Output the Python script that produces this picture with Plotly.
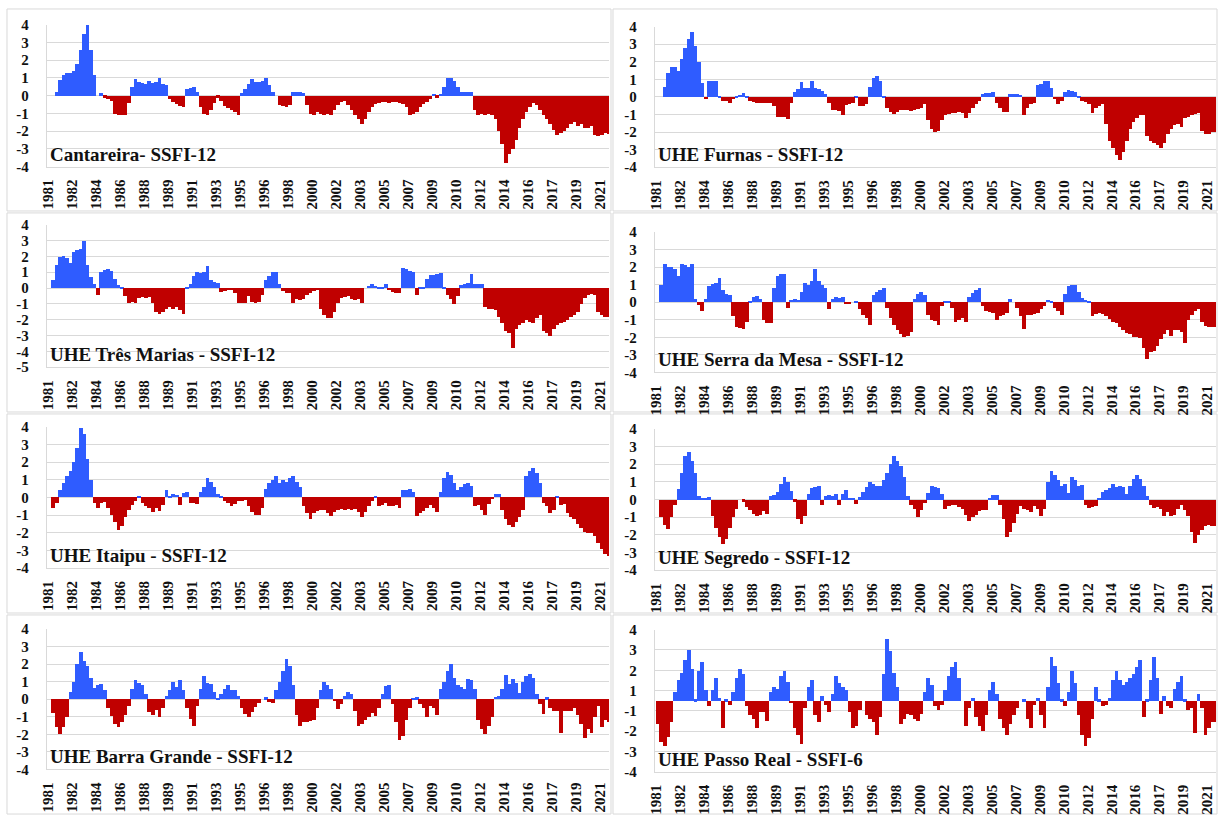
import plotly.graph_objects as go

# ---------------- data (quarterly SSFI values, Jan 1981 .. Dec 2021 edge) ----------------
label_years = ["1981", "1982", "1984", "1986", "1988", "1989", "1991", "1993", "1995", "1996",
               "1998", "2000", "2002", "2003", "2005", "2007", "2009", "2010", "2012", "2014",
               "2016", "2017", "2019", "2021"]

cantareira = [
    0, 0, 0.2, 0.9, 1.2, 1.3, 1.3,
    1.4, 1.8, 2.6, 3.5, 4.0, 2.6, 1.2,
    0, 0.15, -0.1, -0.2, -0.3, -1.0, -1.1,
    -1.1, -1.1, -0.4, 0.5, 0.95, 0.8, 0.75,
    0.7, 0.85, 0.75, 0.8, 1.0, 0.7, 0.6,
    -0.2, -0.35, -0.45, -0.55, -0.6, 0.4, 0.45,
    0.5, 0.2, -0.6, -1.0, -1.1, -0.8, -0.4,
    -0.1, -0.3, -0.55, -0.7, -0.8, -0.9, -1.05,
    0.15, 0.4, 0.7, 0.95, 0.8, 0.8, 0.85,
    1.0, 0.6, 0.2, 0, -0.5, -0.55, -0.6,
    -0.5, 0.2, 0.25, 0.25, 0.15, -0.5, -1.0,
    -1.1, -0.9, -1.0, -1.1, -1.0, -1.05, -0.8,
    -0.5, -0.35, -0.3, -0.5, -0.8, -1.1, -1.3,
    -1.6, -1.3, -0.9, -0.6, -0.45, -0.4, -0.35,
    -0.35, -0.4, -0.35, -0.35, -0.4, -0.45, -0.6,
    -1.1, -1.0, -0.9, -0.6, -0.45, -0.35, -0.2,
    0.1, -0.1, 0.1, 0.5, 1.0, 1.0, 0.85,
    0.5, 0.25, 0.2, 0.2, 0.25, -0.8, -1.1,
    -1.0, -1.1, -1.0, -1.05, -1.3, -2.0, -2.7,
    -3.8, -3.3, -3.0, -2.5, -1.8, -1.3, -0.9,
    -0.6, -0.4, -0.5, -0.8, -1.1, -1.3, -1.6,
    -1.9, -2.2, -2.1, -2.0, -1.8, -1.6, -1.45,
    -1.7, -1.6, -1.8, -1.8, -1.7, -2.2, -2.25,
    -2.2, -2.1, -2.15]

furnas = [
    0, 0, 0.6, 1.4, 1.7, 1.7, 1.5,
    2.2, 2.8, 3.3, 3.7, 2.9, 2.0, 0.8,
    -0.1, 0.9, 0.95, 0.9, 0.1, -0.2, -0.2,
    -0.3, -0.1, 0.1, 0.15, 0.25, 0.05, -0.2,
    -0.25, -0.3, -0.35, -0.35, -0.35, -0.3, -0.5,
    -1.1, -1.1, -1.1, -1.25, -0.3, 0.3, 0.45,
    0.85, 0.5, 0.55, 0.9, 0.5, 0.45, 0.35,
    0.2, -0.3, -0.7, -0.7, -0.8, -1.0, -0.45,
    -0.4, -0.35, 0.05, -0.5, -0.5, -0.4, 0.6,
    1.1, 1.2, 0.9, 0.1, -0.6, -0.85, -0.95,
    -0.85, -0.7, -0.7, -0.75, -0.8, -0.7, -0.65,
    -0.6, -0.4, -1.3, -1.8, -2.0, -1.9, -1.3,
    -1.0, -0.95, -0.9, -0.9, -0.85, -0.9, -1.2,
    -0.9, -0.6, -0.4, -0.2, 0.2, 0.25, 0.25,
    0.3, -0.3, -0.6, -0.85, -0.85, 0.2, 0.2,
    0.2, 0.15, -1.0, -0.6, -0.4, -0.3, 0.7,
    0.75, 0.9, 0.95, 0.5, -0.1, -0.4, -0.2,
    0.3, 0.4, 0.35, 0.3, 0.1, -0.2, -0.25,
    -0.4, -0.9, -0.6, -0.5, -0.4, -1.5, -2.5,
    -2.9, -3.3, -3.6, -3.1, -2.5, -1.8, -1.4,
    -1.2, -1.0, -1.0, -2.2, -2.5, -2.6, -2.7,
    -2.9, -2.6, -2.1, -1.8, -1.6, -1.5, -1.7,
    -1.2, -1.1, -1.0, -0.95, -0.9, -1.9, -2.1,
    -2.1, -2.0, -2.0]

tres_marias = [
    0, 0.5, 1.5, 2.0, 2.05, 1.9, 1.6,
    2.3, 2.4, 2.5, 3.0, 1.5, 0.7, 0.3,
    -0.4, 1.0, 1.15, 1.2, 1.1, 0.6, 0.2,
    0.1, -0.5, -0.9, -0.85, -0.9, -0.6, -0.55,
    -0.6, -0.55, -0.9, -1.5, -1.6, -1.5, -1.3,
    -1.2, -1.3, -1.2, -1.4, -1.6, 0.1, 0.3,
    0.8, 1.0, 0.95, 1.0, 1.4, 0.55, 0.4,
    0.35, -0.25, -0.15, -0.1, -0.1, -0.3, -0.9,
    -0.95, -0.95, -0.5, -0.85, -0.9, -0.85, -0.4,
    0.5, 0.8, 1.05, 1.0, 0.3, -0.2, -0.3,
    -0.3, -0.9, -0.7, -0.75, -0.7, -0.4, -0.3,
    -0.15, -0.05, -1.3, -1.7, -1.85, -1.9, -1.5,
    -0.9, -0.6, -0.55, -0.5, -0.7, -0.75, -0.7,
    -0.9, 0, 0.15, 0.3, 0.15, 0.05, 0.05,
    0.3, -0.1, -0.25, -0.3, -0.3, 1.3, 1.2,
    1.1, 1.05, -0.4, 0.05, 0.1, 0.6, 0.85,
    0.85, 0.9, 0.95, 0.1, -0.4, -0.7, -1.0,
    -0.5, 0.2, 0.3, 0.35, 0.9, 0.3, 0.3,
    0.3, -1.2, -1.3, -1.3, -1.4, -1.8, -2.2,
    -2.7, -2.8, -3.8, -2.6, -2.3, -2.2, -2.0,
    -2.1, -2.2, -1.9, -1.7, -2.7, -2.8, -3.0,
    -2.6, -2.3, -2.2, -2.1, -2.0, -1.8, -1.7,
    -1.5, -1.0, -0.6, -0.45, -0.35, -0.4, -1.5,
    -1.7, -1.8, -1.8]

serra_da_mesa = [
    0, 1.0, 2.2, 2.0, 2.0, 1.9, 1.5,
    2.2, 2.1, 2.0, 2.2, 0.2, -0.15, -0.5,
    0.2, 0.9, 1.05, 1.1, 1.4, 0.7, 0.5,
    0.4, -0.8, -1.4, -1.45, -1.5, -1.1, 0.1,
    0.3, 0.35, 0.2, -1.0, -1.2, -1.2, 0.8,
    1.5, 1.6, 1.6, -0.3, 0.15, 0.2, 0.15,
    0.6, 1.1, 1.0, 1.2, 1.9, 1.2, 1.0,
    0.8, -0.4, 0.2, 0.3, 0.25, 0.3, -0.1,
    -0.1, 0, 0.05, -0.4, -0.7, -0.9, -1.3,
    0.4, 0.6, 0.7, 0.8, -0.3, -0.9, -1.3,
    -1.6, -1.8, -2.0, -1.9, -1.7, 0.2, 0.5,
    0.6, 0.4, -0.7, -1.0, -1.05, -1.3, -0.2,
    0.1, 0.1, -0.3, -1.1, -1.0, -0.9, -1.1,
    0.3, 0.55, 0.7, 0.8, -0.2, -0.5, -0.55,
    -0.6, -1.0, -0.8, -0.7, -0.6, 0.2, 0,
    -0.3, -0.8, -1.5, -0.7, -0.7, -0.65, -0.6,
    -0.4, -0.2, 0.15, 0.1, -0.35, -0.5, -0.7,
    0.5, 0.9, 1.0, 1.0, 0.6, 0.25, 0.15,
    0.1, -0.8, -0.65, -0.6, -0.65, -0.8, -0.95,
    -1.1, -1.2, -1.4, -1.6, -1.75, -1.8, -1.95,
    -2.0, -2.05, -2.6, -3.2, -2.8, -2.75, -2.5,
    -2.1, -1.8, -1.6, -1.9, -1.6, -1.55, -1.7,
    -2.3, -1.0, -0.7, -0.5, -0.4, -1.1, -1.35,
    -1.4, -1.4, -1.4]

itaipu = [
    0, -0.6, -0.3, 0.4, 0.8, 1.2, 1.5,
    2.0, 2.8, 3.95, 3.6, 2.2, 1.0, -0.3,
    -0.6, -0.3, -0.25, -0.6, -1.0, -1.4, -1.85,
    -1.6, -1.1, -0.7, -0.4, -0.2, 0.05, -0.3,
    -0.5, -0.6, -0.8, -0.6, -0.75, -0.4, 0.45,
    0.05, 0.2, 0.15, -0.45, 0.25, 0.3, -0.3,
    -0.3, -0.35, 0.3, 0.6, 1.1, 0.9, 0.6,
    0.2, 0.1, -0.2, -0.3, -0.5, -0.35, -0.2,
    -0.2, -0.15, -0.5, -0.8, -1.0, -1.0, -0.6,
    0.5, 0.8, 1.0, 1.2, 0.8, 1.0, 0.9,
    1.1, 1.2, 0.85, 0.6, -0.5, -0.9, -1.25,
    -0.9, -0.75, -0.7, -0.7, -0.9, -1.05, -0.8,
    -0.7, -0.65, -0.7, -0.65, -0.7, -0.65, -0.8,
    -1.1, -0.8, -0.5, -0.2, 0.1, -0.5, -0.45,
    -0.3, -0.5, -0.5, -0.45, -0.6, 0.45, 0.45,
    0.5, 0.3, -1.05, -0.9, -0.75, -0.6, -0.4,
    -0.6, -0.8, 0.3, 1.1, 1.45, 1.3, 0.8,
    0.4, 0.6, 0.75, 0.8, 0.65, -0.5, -0.4,
    -0.7, -1.0, -0.35, -0.1, 0.2, 0.2, -0.7,
    -1.2, -1.55, -1.65, -1.4, -1.1, -0.7, 1.2,
    1.5, 1.65, 1.4, 0.8, -0.3, -0.5, -0.9,
    -0.7, 0.1, -0.4, -0.35, -0.9, -1.1, -1.2,
    -1.5, -1.75, -1.95, -2.0, -2.0, -2.2, -2.6,
    -2.9, -3.2, -3.3]

segredo = [
    0, -1.0, -1.4, -1.65, -1.0, -0.3, 0.6,
    1.5, 2.5, 2.7, 2.2, 1.5, 0.2, 0.05,
    0.1, 0.15, -0.9, -1.6, -2.1, -2.5, -2.2,
    -1.6, -1.0, -0.5, 0, -0.1, -0.4, -0.6,
    -0.8, -0.9, -0.85, -0.65, -0.8, 0.2, 0.25,
    0.45, 0.9, 1.3, 1.0, 0.5, -0.1, -1.1,
    -1.35, -0.9, 0.3, 0.65, 0.7, 0.75, -0.3,
    0.2, 0.25, 0.2, 0.3, -0.3, 0.35, 0.55,
    0.1, 0.1, -0.25, 0.15, 0.45, 0.7, 1.0,
    0.9, 0.75, 0.8, 1.1, 1.5, 2.0, 2.45,
    2.2, 1.9, 1.3, 0.2, -0.3, -0.5, -1.0,
    -0.6, -0.2, 0.4, 0.8, 0.7, 0.65, 0.3,
    -0.5, -0.35, -0.3, -0.3, -0.4, -0.55, -0.85,
    -1.2, -1.0, -0.85, -0.65, -0.6, -0.6, 0.05,
    0.25, 0.25, -0.3, -1.1, -2.1, -1.8, -1.3,
    -0.8, -0.35, -0.5, -0.6, -0.7, -0.35, -0.55,
    -0.9, -0.5, 1.0, 1.65, 1.4, 1.1, 0.8,
    0.9, 0.4, 1.3, 1.1, 0.75, 0.85, -0.3,
    -0.45, -0.4, -0.35, 0.1, 0.45, 0.55, 0.65,
    0.9, 0.7, 0.8, 0.7, 0.35, 0.8, 1.2,
    1.4, 1.2, 0.8, 0.2, -0.3, -0.45, -0.4,
    -0.5, -0.9, -0.7, -0.9, -0.85, -0.5, -0.3,
    -0.6, -0.9, -1.8, -2.45, -2.0, -1.7, -1.5,
    -1.4, -1.5, -1.5]

barra_grande = [
    0, -0.8, -1.6, -2.0, -1.6, -1.0, 0.4,
    1.0, 2.0, 2.7, 2.15, 1.9, 1.2, 0.65,
    0.8, 0.85, 0.5, -0.5, -0.95, -1.4, -1.6,
    -1.3, -0.9, -0.4, 0.6, 1.1, 0.95, 0.8,
    0.3, -0.75, -0.9, -0.6, -1.0, -0.5, 0.2,
    0.5, 1.0, 0.7, 1.1, 0.5, -0.5, -1.1,
    -1.5, -0.4, 0.6, 1.3, 0.95, 0.85, 0.4,
    0.05, 0.3, 0.6, 0.8, 0.5, 0.55, 0.2,
    -0.5, -0.85, -1.0, -0.75, -0.45, -0.2, 0,
    0.1, -0.15, -0.2, 0.5, 1.0, 1.6, 2.3,
    1.9, 0.8, -0.9, -1.55, -1.3, -1.3, -1.25,
    -1.2, -0.5, 0.5, 1.0, 0.8, 0.6, -0.1,
    -0.55, -0.3, 0.2, 0.4, 0.3, -0.7, -1.5,
    -1.4, -1.2, -1.0, -0.8, -0.95, -0.5, 0.3,
    0.75, 0.8, -0.3, -1.3, -2.3, -2.1, -1.2,
    -0.5, 0.05, 0.1, -0.3, -0.5, -1.0, -0.4,
    -0.5, -0.9, 0.6, 1.0, 1.6, 2.0, 1.2,
    0.8, 0.7, 0.6, 1.15, 1.1, 0.6, -1.2,
    -1.7, -2.0, -1.5, -1.0, 0.15, 0.2, 0.6,
    1.4, 0.85, 1.15, 0.9, 0.35, 1.0, 1.3,
    1.45, 1.2, 0.3, -0.3, -0.85, 0.1, -0.5,
    -0.65, -0.7, -1.9, -0.7, -0.7, -0.7, -0.5,
    -0.9, -1.4, -2.2, -1.7, -1.9, -1.0, -0.4,
    -1.6, -1.2, -1.3]

passo_real = [
    -1.3, -2.3, -2.5, -2.0, -1.2, 0.5, 1.2,
    1.6, 2.3, 2.9, 1.8, 0.1, 1.7, 2.2,
    0.6, -0.3, 0.6, 1.3, 0.2, -1.5, 0.1,
    -0.2, 0.5, 1.3, 1.8, 1.5, -0.3, -0.8,
    -1.0, -1.5, -0.6, -0.6, -1.1, 0.5, 0.8,
    0.7, 1.4, 1.7, 1.1, -0.1, -1.5, -1.9,
    -2.4, -0.4, 0.8, 1.2, -0.8, -1.2, 0.3,
    -0.2, -0.6, 0.4, 1.4, 1.0, 0.8, 0.6,
    -0.6, -1.5, -1.4, -0.5, 0, -0.8, -1.0,
    -1.2, -1.9, -0.9, 1.5, 3.5, 2.8, 1.6,
    0.8, -1.3, -1.0, -0.7, -0.8, -1.0, -1.1,
    -0.7, 0.5, 1.3, 0.9, -0.3, -0.5, -0.2,
    0.6, 1.4, 1.9, 2.2, 1.3, 0, -1.4,
    -0.4, 0.2, -0.9, -1.4, -1.7, -0.8, 0.6,
    1.1, 0.4, -1.0, -1.5, -1.9, -1.3, -0.8,
    -0.4, 0, 0.1, -1.0, -1.5, -0.2, 0.15,
    -0.8, -1.5, 0.8, 2.5, 2.0, 1.0, 0.1,
    -0.3, 0.5, 1.7, 1.0, -0.8, -1.9, -2.5,
    -2.1, -1.0, 0.8, 0.1, -0.3, -0.2, 0.2,
    1.2, 1.7, 1.2, 0.9, 1.1, 1.3, 1.5,
    1.9, 2.3, -0.9, 0.1, 1.2, 2.5, 1.3,
    -0.7, 0.3, -0.3, -0.4, 0.7, 1.1, 1.4,
    0.1, -0.5, -0.4, -1.8, 0.4, -0.4, -1.9,
    -1.5, -1.2, -1.2]

titles = ["Cantareira- SSFI-12", "UHE Furnas - SSFI-12", "UHE Três Marias - SSFI-12",
          "UHE Serra da Mesa - SSFI-12", "UHE Itaipu - SSFI-12", "UHE Segredo - SSFI-12",
          "UHE Barra Grande - SSFI-12", "UHE Passo Real - SSFI-6"]
series = [cantareira, furnas, tres_marias, serra_da_mesa, itaipu, segredo, barra_grande, passo_real]

# ---------------- layout / style ----------------
W, H = 1218, 823
BLUE = "#2f5cff"
RED = "#c00000"
GRID = "#d9d9d9"
FONT = "Liberation Serif"

# plot-area pixel boxes: (left, right, top, bottom)
boxes = [
    (41, 606, 17, 161.7), (652, 1216, 19, 162.3),
    (41, 606, 221, 366.3), (652, 1216, 228.3, 371.7),
    (41, 606, 427.3, 571), (652, 1216, 429, 573.3),
    (41, 606, 633.3, 776.5), (652, 1216, 634, 779),
]
# chart-area borders
frames = [
    (1, 608, 1, 207), (610, 1217, 1, 207),
    (1, 608, 209, 412), (610, 1217, 209, 412),
    (1, 608, 414, 617), (610, 1217, 414, 617),
    (1, 608, 619, 822), (610, 1217, 619, 822),
]

tick_months = [i * 21 for i in range(len(label_years))]

fig = go.Figure()
layout = dict(
    width=W, height=H, margin=dict(l=0, r=0, t=0, b=0),
    paper_bgcolor="white", plot_bgcolor="white",
    showlegend=False, barmode="overlay", bargap=0,
    shapes=[], annotations=[],
)

for k, (vals, title) in enumerate(zip(series, titles)):
    n = k + 1
    xa = "x" if n == 1 else f"x{n}"
    ya = "y" if n == 1 else f"y{n}"
    xmid = [3 * i + 1 for i in range(len(vals))]
    pos = [v if v > 0 else None for v in vals]
    neg = [v if v < 0 else None for v in vals]
    fig.add_trace(go.Bar(x=xmid, y=pos, width=3.3, marker=dict(color=BLUE, line=dict(width=0)),
                         xaxis=xa, yaxis=ya, hoverinfo="x+y"))
    fig.add_trace(go.Bar(x=xmid, y=neg, width=3.3, marker=dict(color=RED, line=dict(width=0)),
                         xaxis=xa, yaxis=ya, hoverinfo="x+y"))

    l, r, t, b = boxes[k]
    xdom = [l / W, r / W]
    ydom = [1 - b / H, 1 - t / H]

    if k == 2:
        yr = [-5, 4]
        tv = list(range(-5, 5))
        tt = [str(v) for v in tv]
    elif k == 7:
        yr = [-4, 4]
        tv = [-4 + j * 8 / 7 for j in range(8)]
        tt = [str(int(round(v))) for v in tv]
    else:
        yr = [-4, 4]
        tv = list(range(-4, 5))
        tt = [str(v) for v in tv]

    layout["xaxis" if n == 1 else f"xaxis{n}"] = dict(
        domain=xdom, anchor=ya, range=[-1.5, 490.5],
        tickmode="array", tickvals=tick_months, ticktext=label_years,
        tickangle=-90, tickfont=dict(family=FONT, size=15, color="#111", weight="bold"),
        showgrid=False, zeroline=False, showline=True, linecolor=GRID, linewidth=1,
        ticks="", ticklabelstandoff=6, fixedrange=True,
    )
    layout["yaxis" if n == 1 else f"yaxis{n}"] = dict(
        domain=ydom, anchor=xa, range=yr,
        tickmode="array", tickvals=tv, ticktext=tt,
        tickfont=dict(family=FONT, size=15, color="#111", weight="bold"),
        showgrid=True, gridcolor=GRID, gridwidth=1, zeroline=False,
        showline=True, linecolor=GRID, linewidth=1, ticks="", ticklabelstandoff=14,
        fixedrange=True,
    )
    layout["annotations"].append(dict(
        text=title, xref=f"{xa} domain", yref=f"{ya} domain", x=0.002, y=0.0,
        xanchor="left", yanchor="bottom", showarrow=False, yshift=0,
        font=dict(family=FONT, size=19, color="#111", weight="bold"),
    ))
    fl, fr, ft, fb = frames[k]
    layout["shapes"].append(dict(
        type="rect", xref="paper", yref="paper",
        x0=fl / W, x1=fr / W, y0=1 - fb / H, y1=1 - ft / H,
        line=dict(color=GRID, width=1), fillcolor="rgba(0,0,0,0)", layer="below",
    ))

fig.update_layout(**layout)
fig.write_html(
    "out.html",
    config={"displayModeBar": False},
    post_script="document.body.style.margin='0';document.body.style.padding='0';",
)
